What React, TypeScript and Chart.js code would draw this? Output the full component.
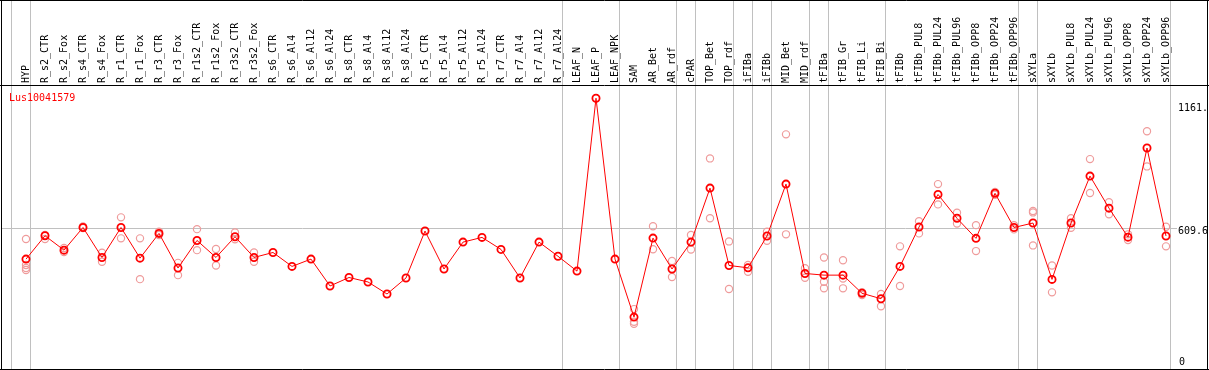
import React, { useEffect, useRef } from "react";
import { Chart, registerables } from "chart.js";

Chart.register(...registerables);

const geneName = "Lus10041579";

const categories = [
  "HYP", "R_s2_CTR", "R_s2_Fox", "R_s4_CTR", "R_s4_Fox", "R_r1_CTR", "R_r1_Fox",
  "R_r3_CTR", "R_r3_Fox", "R_r1s2_CTR", "R_r1s2_Fox", "R_r3s2_CTR", "R_r3s2_Fox",
  "R_s6_CTR", "R_s6_Al4", "R_s6_Al12", "R_s6_Al24", "R_s8_CTR", "R_s8_Al4",
  "R_s8_Al12", "R_s8_Al24", "R_r5_CTR", "R_r5_Al4", "R_r5_Al12", "R_r5_Al24",
  "R_r7_CTR", "R_r7_Al4", "R_r7_Al12", "R_r7_Al24", "LEAF_N", "LEAF_P", "LEAF_NPK",
  "SAM", "AR_Bet", "AR_rdf", "cPAR", "TOP_Bet", "TOP_rdf", "iFIBa", "iFIBb",
  "MID_Bet", "MID_rdf", "tFIBa", "tFIB_Gr", "tFIB_Li", "tFIB_Bi", "tFIBb",
  "tFIBb_PUL8", "tFIBb_PUL24", "tFIBb_PUL96", "tFIBb_OPP8", "tFIBb_OPP24",
  "tFIBb_OPP96", "sXYLa", "sXYLb", "sXYLb_PUL8", "sXYLb_PUL24", "sXYLb_PUL96",
  "sXYLb_OPP8", "sXYLb_OPP24", "sXYLb_OPP96",
];

const means = [
  479, 578, 517, 613, 486, 613, 483, 588, 441, 558, 486, 574, 486,
  507, 448, 479, 365, 401, 382, 331, 399, 598, 437, 551, 571, 520, 399, 551, 491,
  428, 1161.3, 479,
  233, 568, 437, 551, 780, 452, 442, 577, 797, 418, 411, 411, 334, 311,
  448, 615, 753, 652, 567, 758, 613,
  632, 393, 632, 831, 695, 572, 950, 577,
];

const replicates: number[][] = [
  [564, 454, 441, 433], [581, 564], [526, 509], [617, 611], [506, 468],
  [656, 567], [567, 394], [595, 581], [463, 411], [606, 517], [522, 452],
  [592, 563], [507, 468],
  [], [], [], [], [], [], [], [], [], [], [], [], [], [], [], [], [], [], [],
  [267, 213, 205], [618, 521], [471, 403], [581, 520], [906, 652], [554, 352],
  [454, 425], [595, 557], [1008, 584], [440, 400], [486, 383, 355],
  [474, 397, 355], [339, 327], [331, 279], [533, 365], [640, 588], [797, 711],
  [676, 630], [623, 513], [764, 752], [623, 605], [683, 677, 537], [452, 338],
  [652, 612], [903, 759], [720, 669], [584, 560], [1021, 872], [616, 533],
];

// index of the last category of each group (boundary lines drawn after it)
const groupEnds = [-1, 0, 28, 31, 34, 35, 37, 38, 39, 41, 42, 45, 52, 53, 60];

const yMid = 609.6;
const yScaleMax = 1219.2;
const yTickLabels = ["1161.", "609.6", "0"];

const W = 1209;
const H = 380;
const MONO = "10px 'DejaVu Sans Mono', monospace";

const overlayPlugin = {
  id: "overlay",
  beforeDatasetsDraw(chart: any) {
    const { ctx, scales } = chart;
    const x = scales.x;
    const y = scales.y;
    ctx.save();
    ctx.strokeStyle = "#c0c0c0";
    ctx.lineWidth = 1;
    groupEnds.forEach((g) => {
      const px = Math.round(x.getPixelForValue(g + 4 / 19)) + 0.5;
      ctx.beginPath();
      ctx.moveTo(px, 0);
      ctx.lineTo(px, 369);
      ctx.stroke();
    });
    const gy = Math.floor(y.getPixelForValue(yMid)) + 0.5;
    ctx.beginPath();
    ctx.moveTo(1, gy);
    ctx.lineTo(1207, gy);
    ctx.stroke();
    ctx.restore();
  },
  afterDraw(chart: any) {
    const { ctx, scales } = chart;
    const x = scales.x;
    const y = scales.y;
    ctx.save();
    // category labels (rotated)
    ctx.fillStyle = "#000";
    ctx.font = MONO;
    ctx.textAlign = "left";
    ctx.textBaseline = "middle";
    categories.forEach((c, i) => {
      const px = x.getPixelForValue(i);
      ctx.save();
      ctx.translate(px, 83);
      ctx.rotate(-Math.PI / 2);
      ctx.fillText(c, 0, 0);
      ctx.restore();
    });
    // frame
    ctx.strokeStyle = "#000";
    ctx.lineWidth = 1;
    ctx.beginPath();
    ctx.moveTo(0, 0.5); ctx.lineTo(W, 0.5);
    ctx.moveTo(0, 85.5); ctx.lineTo(W, 85.5);
    ctx.moveTo(0, 369.5); ctx.lineTo(W, 369.5);
    ctx.moveTo(1.5, 0); ctx.lineTo(1.5, 370);
    ctx.moveTo(1207.5, 0); ctx.lineTo(1207.5, 370);
    ctx.stroke();
    // gene name
    ctx.fillStyle = "#ff0000";
    ctx.font = MONO;
    ctx.textAlign = "left";
    ctx.textBaseline = "alphabetic";
    ctx.fillText(geneName, 9, 101);
    // value labels on the right
    const midY = y.getPixelForValue(yMid);
    ctx.fillStyle = "#fff";
    ctx.fillRect(1177, midY - 1, 30, 3);
    ctx.fillStyle = "#000";
    ctx.textBaseline = "middle";
    ctx.fillText(yTickLabels[0], 1178, 108.5);
    ctx.fillText(yTickLabels[1], 1178, midY + 3);
    ctx.fillText(yTickLabels[2], 1179, 362.5);
    ctx.restore();
  },
};

export default function App() {
  const ref = useRef<HTMLCanvasElement | null>(null);

  useEffect(() => {
    if (!ref.current) return;
    const meanData = means.map((v, i) => ({ x: i, y: v }));
    const repData: { x: number; y: number }[] = [];
    replicates.forEach((arr, i) => arr.forEach((v) => repData.push({ x: i, y: v })));

    const chart = new Chart(ref.current, {
      type: "line",
      data: {
        datasets: [
          {
            data: meanData,
            borderColor: "#ff0000",
            borderWidth: 1,
            pointRadius: 3.6,
            pointBorderWidth: 1.8,
            pointBorderColor: "#ff0000",
            pointBackgroundColor: "rgba(0,0,0,0)",
            tension: 0,
            fill: false,
          },
          {
            data: repData,
            showLine: false,
            pointRadius: 3.6,
            pointBorderWidth: 1.2,
            pointBorderColor: "#ef9c9c",
            pointBackgroundColor: "rgba(0,0,0,0)",
          },
        ],
      },
      options: {
        responsive: false,
        animation: false,
        events: [],
        layout: { autoPadding: false, padding: { top: 84.55, bottom: H - 372.05, left: 0, right: 0 } },
        plugins: {
          legend: { display: false },
          tooltip: { enabled: false },
        },
        scales: {
          x: { type: "linear", min: -26 / 19, max: (W - 26) / 19, display: false },
          y: { type: "linear", min: 0, max: yScaleMax, display: false },
        },
      },
      plugins: [overlayPlugin],
    });
    return () => chart.destroy();
  }, []);

  return (
    <div style={{ position: "fixed", left: 0, top: 0, width: W, height: 370, overflow: "hidden", background: "#fff" }}>
      <canvas ref={ref} width={W} height={H} style={{ display: "block" }} />
    </div>
  );
}
